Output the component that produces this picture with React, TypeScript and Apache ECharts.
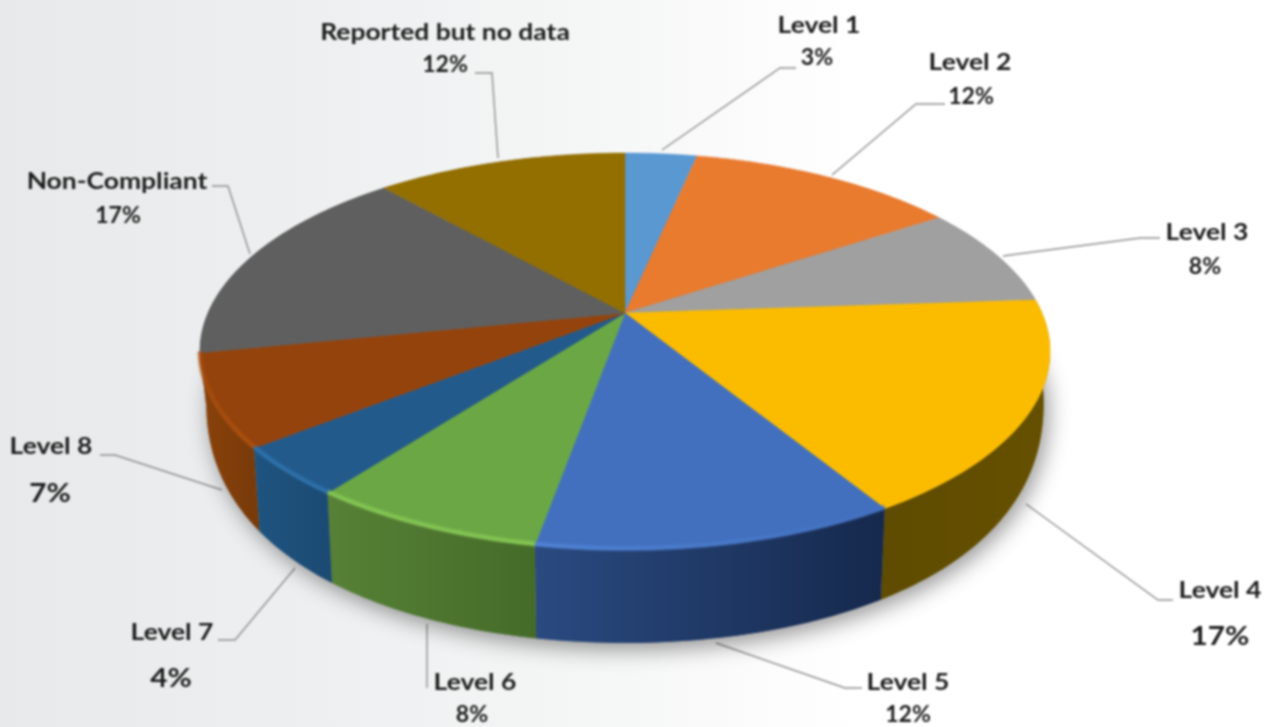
import React, { useEffect, useRef } from "react";
import * as echarts from "echarts";

const categories = ["Level 1", "Level 2", "Level 3", "Level 4", "Level 5", "Level 6", "Level 7", "Level 8", "Non-Compliant", "Reported but no data"];
const sliceValues = [3.3, 12.4, 8.2, 17.4, 11.5, 7.5, 4.0, 7.49, 16.7, 11.51];

const topColors = ["#5A98D2", "#E97B2F", "#A0A0A0", "#FBBC00", "#4270BF", "#6BA845", "#235A8C", "#95430C", "#5F5F5F", "#936F00"];
const wallLeft = ["#3F6E98", "#A85A22", "#737373", "#5F4C00", "#2A4A80", "#578136", "#1F5480", "#8A420B", "#454545", "#6A5000"];
const wallRight = ["#3F6E98", "#A85A22", "#737373", "#665000", "#16294D", "#456B29", "#1B4A72", "#773A0A", "#454545", "#6A5000"];
const rimStart: (string | null)[] = [null, null, null, null, "#5588DC", "#8CCF58", "#2F78B4", "#A84D0E", null, null];
const rimEnd: (string | null)[] = [null, null, null, null, "#4270BF", "#8CCF58", "#2F78B4", "#B5540F", null, null];

const labelLayout = [
  { nameAt: [819, 24], pctAt: [817, 57], pctSize: 22, line: [[662, 150], [780, 68], [796, 68]] },
  { nameAt: [970, 61], pctAt: [971, 96], pctSize: 22, line: [[832, 175], [916, 104], [945, 104]] },
  { nameAt: [1207, 231], pctAt: [1205, 266], pctSize: 22, line: [[1003, 256], [1140, 238], [1160, 238]] },
  { nameAt: [1220, 589], pctAt: [1220, 635], pctSize: 27, line: [[1026, 504], [1158, 600], [1173, 600]] },
  { nameAt: [908, 681], pctAt: [908, 714], pctSize: 22, line: [[716, 643], [845, 688], [862, 688]] },
  { nameAt: [475, 681], pctAt: [472, 714], pctSize: 22, line: [[427, 624], [427, 688]] },
  { nameAt: [172, 631], pctAt: [171, 677], pctSize: 27, line: [[295, 568], [235, 640], [218, 640]] },
  { nameAt: [51, 445], pctAt: [50, 492], pctSize: 27, line: [[222, 490], [115, 455], [100, 455]] },
  { nameAt: [117, 180], pctAt: [118, 215], pctSize: 22, line: [[250, 254], [228, 186], [212, 186]] },
  { nameAt: [445, 31], pctAt: [445, 64], pctSize: 22, line: [[498, 158], [492, 73], [475, 73]] },
];

const CX = 625, CY = 313, A = 417, B = 191, K = 0.194;
const total = sliceValues.reduce((a, b) => a + b, 0);
const starts: number[] = [];
sliceValues.reduce((acc, v) => { starts.push(acc); return acc + v; }, 0);
const ang = (v: number) => (v / total) * Math.PI * 2;

function topPoint(t: number) {
  const x = Math.sin(t), y = -Math.cos(t), d = 1 - K * y;
  return [CX + (A * x) / d, CY + (B * y) / d];
}
function bottomPoint(t: number) {
  const y = -Math.cos(t), p = topPoint(t);
  const dy = Math.max(0, 31.7 + 117.4 * y - 56 * y * y);
  return [CX + (p[0] - CX) * 0.985, p[1] + dy];
}
function shadowPoint(t: number) {
  const p = bottomPoint(t), q = topPoint(t);
  return [p[0], Math.max(p[1], q[1] + 50)];
}
function rimPoint(t: number) {
  const p = topPoint(t);
  return [p[0], p[1] - 1.5];
}
function arc(f: (t: number) => number[], a: number, b: number) {
  const n = Math.max(2, Math.ceil(((b - a) * 180) / Math.PI));
  const out: number[][] = [];
  for (let i = 0; i <= n; i++) out.push(f(a + ((b - a) * i) / n));
  return out;
}

const font = "Lato, 'Open Sans', sans-serif";

export default function App() {
  const ref = useRef<HTMLDivElement>(null);
  useEffect(() => {
    document.body.style.margin = "0";
    const chart = echarts.init(ref.current!, undefined, { renderer: "svg" });
    const seriesData = sliceValues.map((v, i) => ({ name: categories[i], value: v }));
    const graphic: any[] = [];
    labelLayout.forEach((l, i) => {
      graphic.push({
        type: "polyline", silent: true, shape: { points: l.line },
        style: { stroke: "#8f8f8f", lineWidth: 1.4, fill: "none" },
      });
      graphic.push({
        type: "text", silent: true, x: l.nameAt[0], y: l.nameAt[1], scaleX: 1.15,
        style: { text: categories[i], fill: "#1c1c1c", font: `bold 23px ${font}`, textAlign: "center", textVerticalAlign: "middle" },
      });
      graphic.push({
        type: "text", silent: true, x: l.pctAt[0], y: l.pctAt[1], scaleX: l.pctSize > 24 ? 1.1 : 1.05,
        style: { text: `${Math.round(sliceValues[i])}%`, fill: "#1c1c1c", font: `bold ${l.pctSize}px ${font}`, textAlign: "center", textVerticalAlign: "middle" },
      });
    });
    chart.setOption({
      animation: false,
      backgroundColor: "transparent",
      graphic,
      series: [
        {
          type: "custom", coordinateSystem: "none", silent: true, data: [0], z: 1,
          renderItem: () => ({
            type: "polygon",
            shape: { points: arc(shadowPoint, 0, Math.PI * 2) },
            style: { fill: "#888", shadowColor: "rgba(0,0,0,0.42)", shadowBlur: 22, shadowOffsetX: 4, shadowOffsetY: 6 },
          }),
        },
        {
          type: "custom", coordinateSystem: "none", silent: true, data: seriesData, z: 2,
          renderItem: (p: any) => {
            const i = p.dataIndex, a = ang(starts[i]), b = ang(starts[i] + sliceValues[i]);
            const pts = [...arc(topPoint, a, b), ...arc(bottomPoint, a, b).reverse()];
            return {
              type: "polygon", shape: { points: pts }, z2: i >= 8 ? 0 : 1,
              style: {
                fill: new echarts.graphic.LinearGradient(0, 0, 1, 0, [
                  { offset: 0, color: wallLeft[i] },
                  { offset: 1, color: wallRight[i] },
                ]),
              },
            };
          },
        },
        {
          type: "custom", coordinateSystem: "none", silent: true, data: seriesData, z: 3,
          renderItem: (p: any) => {
            const i = p.dataIndex, a = ang(starts[i]), b = ang(starts[i] + sliceValues[i]);
            return {
              type: "polygon", shape: { points: [[CX, CY], ...arc(topPoint, a, b)] },
              style: { fill: topColors[i], stroke: topColors[i], lineWidth: 0.5 },
            };
          },
        },
        {
          type: "custom", coordinateSystem: "none", silent: true, data: seriesData, z: 4,
          renderItem: (p: any) => {
            const i = p.dataIndex, a = ang(starts[i]), b = ang(starts[i] + sliceValues[i]);
            if (!rimStart[i]) return null;
            const stroke = new echarts.graphic.LinearGradient(1, 0, 0, 0, [
              { offset: 0, color: rimEnd[i] as string },
              { offset: 1, color: rimStart[i] as string },
            ]);
            return {
              type: "group",
              children: [
                { type: "polyline", shape: { points: arc(rimPoint, a, b) }, style: { stroke, lineWidth: 6, fill: "none", opacity: 0.35 } },
                { type: "polyline", shape: { points: arc(rimPoint, a, b) }, style: { stroke, lineWidth: 3, fill: "none", opacity: 0.6 } },
              ],
            };
          },
        },
      ],
    });
    return () => chart.dispose();
  }, []);
  return (
    <div style={{ position: "fixed", left: 0, top: 0, width: 1272, height: 727, background: "linear-gradient(90deg,#E8E9EA 0%,#EEEFF0 25%,#F5F6F6 47%,#FBFBFB 58%,#FFFFFF 68%)" }}>
      <div ref={ref} style={{ width: 1272, height: 727, filter: "blur(0.8px)" }} />
    </div>
  );
}
